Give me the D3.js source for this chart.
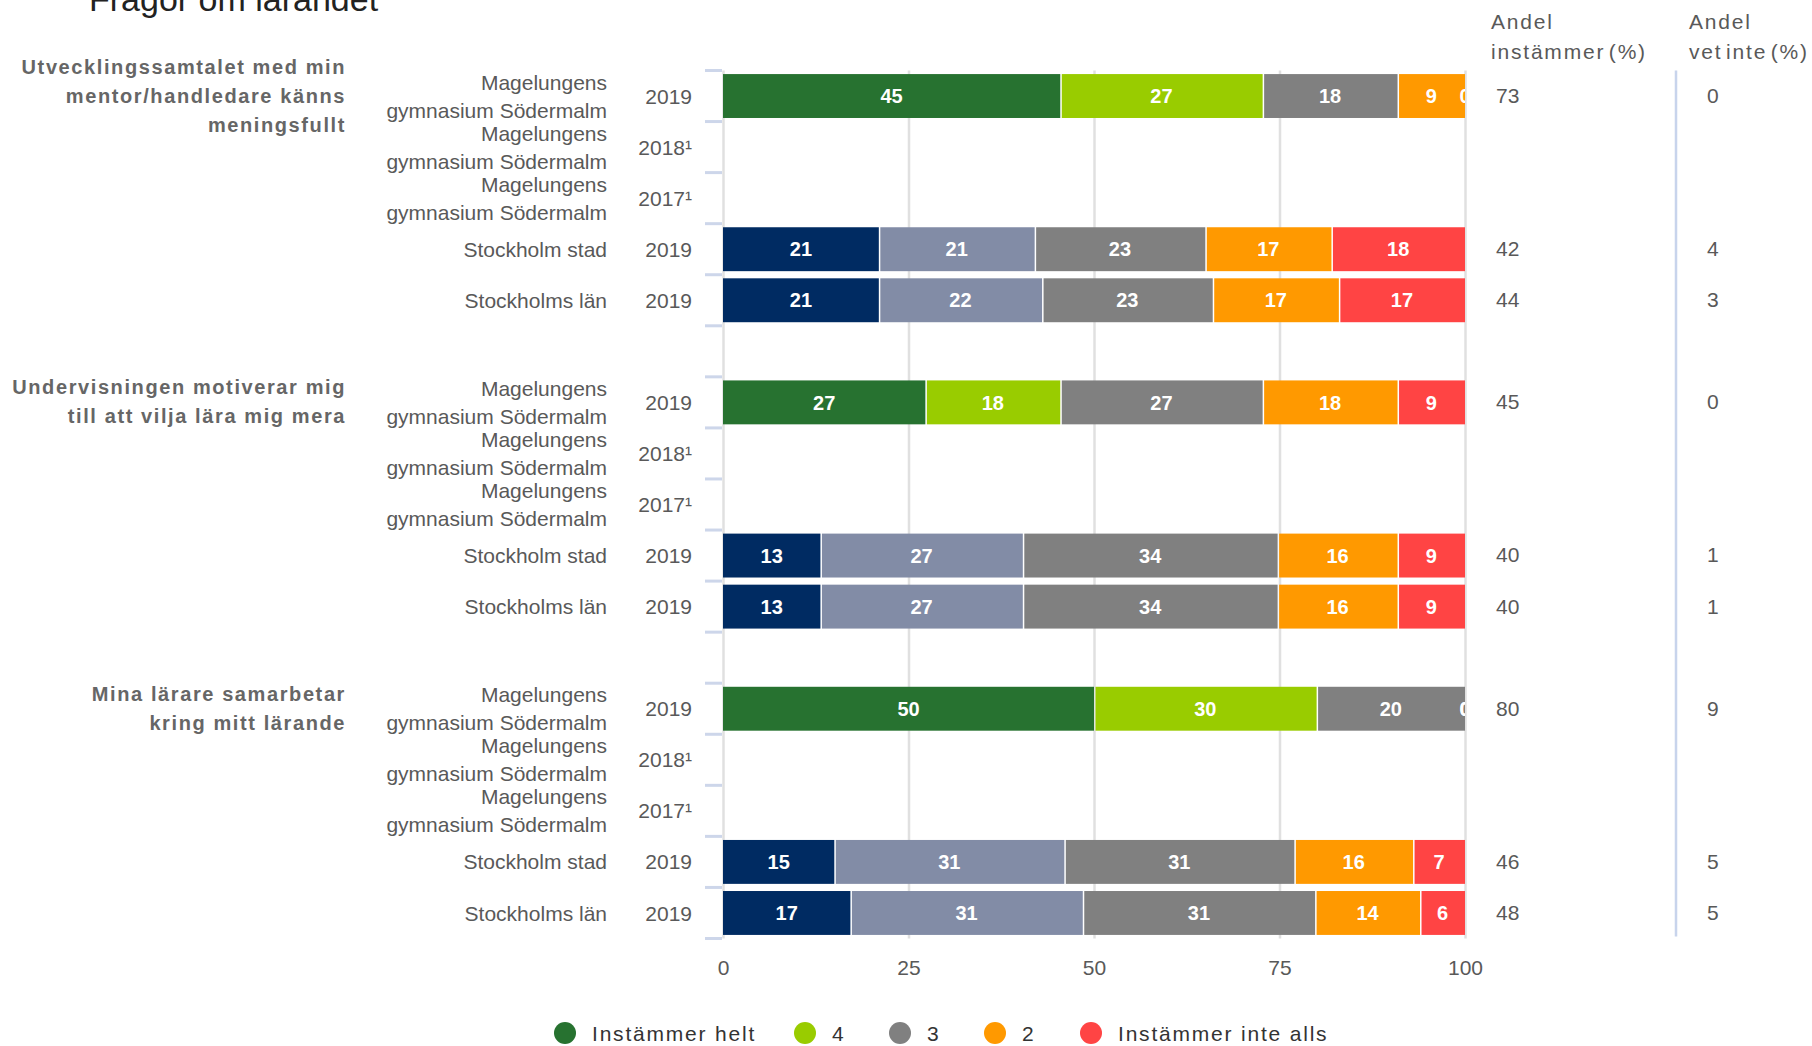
<!DOCTYPE html>
<html lang="sv">
<head>
    <meta charset="UTF-8">
    <title>Frågor om lärandet</title>
    <script src="https://d3js.org/d3.v7.min.js"></script>
    <style>
        body { margin: 0; background: #fff; font-family: "Liberation Sans", Arial, sans-serif; }
        svg text { font-family: "Liberation Sans", Arial, sans-serif; }
        .lbl { fill: #595959; font-size: 21px; }
        .question { fill: #666; font-size: 20px; font-weight: bold; letter-spacing: 1.6px; }
        .head { fill: #595959; font-size: 21px; letter-spacing: 1.8px; word-spacing: -4px; }
        .seg-label { fill: #fff; font-size: 20px; font-weight: bold; }
        .legend text { fill: #333; font-size: 21px; letter-spacing: 1.8px; }
    </style>
</head>
<body>

<div id="chart"></div>

<script>
var questions = [
    ["Utvecklingssamtalet med min", "mentor/handledare känns", "meningsfullt"],
    ["Undervisningen motiverar mig", "till att vilja lära mig mera"],
    ["Mina lärare samarbetar", "kring mitt lärande"]
];
var units = [
    ["Magelungens", "gymnasium Södermalm"],
    ["Magelungens", "gymnasium Södermalm"],
    ["Magelungens", "gymnasium Södermalm"],
    ["Stockholm stad"],
    ["Stockholms län"]
];
var years = ["2019", "2018\u00b9", "2017\u00b9", "2019", "2019"];
var levels = ["Instämmer helt", "4", "3", "2", "Instämmer inte alls"];

// values per row: Instämmer helt, 4, 3, 2, Instämmer inte alls
var q1Values = [[45, 27, 18, 9, 0], null, null, [21, 21, 23, 17, 18], [21, 22, 23, 17, 17]];
var q2Values = [[27, 18, 27, 18, 9], null, null, [13, 27, 34, 16, 9], [13, 27, 34, 16, 9]];
var q3Values = [[50, 30, 20, 0, 0], null, null, [15, 31, 31, 16, 7], [17, 31, 31, 14, 6]];

var q1Agree = [73, null, null, 42, 44];
var q2Agree = [45, null, null, 40, 40];
var q3Agree = [80, null, null, 46, 48];
var q1DontKnow = [0, null, null, 4, 3];
var q2DontKnow = [0, null, null, 1, 1];
var q3DontKnow = [9, null, null, 5, 5];

var xTicks = [0, 25, 50, 75, 100];

var schoolColors = ["#277230", "#99cc00", "#808080", "#ff9900", "#ff4444"];
var regionColors = ["#002b62", "#828ca6", "#808080", "#ff9900", "#ff4444"];

var W = 1812, H = 1046;
var svg = d3.select("#chart").append("svg")
    .attr("width", W)
    .attr("height", H);

// build rows (with a spacer row between the question groups)
var allValues = [q1Values, q2Values, q3Values];
var allAgree = [q1Agree, q2Agree, q3Agree];
var allDontKnow = [q1DontKnow, q2DontKnow, q3DontKnow];
var rows = [];
allValues.forEach(function(group, g) {
    group.forEach(function(v, i) {
        rows.push({ id: g + "-" + i, group: g, idx: i, unit: units[i], year: years[i],
            values: v, agree: allAgree[g][i], dontKnow: allDontKnow[g][i] });
    });
    if (g < allValues.length - 1) rows.push({ id: "sp" + g, spacer: true });
});

var plotL = 723, plotR = 1465, plotT = 70.5, plotB = 938.5;

var x = d3.scaleLinear().domain([0, 100]).range([plotL, plotR]);
var y = d3.scaleBand()
    .domain(rows.map(function(d) { return d.id; }))
    .range([plotT, plotB])
    .paddingInner(0.14)
    .paddingOuter(0.07);
var step = y.step();

// title (cut off at top, as in the original)
svg.append("text")
    .attr("x", 89).attr("y", 11)
    .style("font-size", "34px").style("fill", "#222")
    .text("Frågor om lärandet");

// grid + x axis
var xAxis = svg.append("g")
    .attr("transform", "translate(0," + plotB + ")")
    .call(d3.axisBottom(x).tickValues(xTicks).tickSizeInner(-(plotB - plotT)).tickSizeOuter(0).tickPadding(22));
xAxis.select(".domain").remove();
xAxis.selectAll("line").attr("stroke", "#e0e0e0").attr("stroke-width", 2.5);
xAxis.selectAll("text").attr("class", "lbl").style("font-size", "21px")
    .style("font-family", "'Liberation Sans', Arial, sans-serif").attr("fill", "#595959");

// left tick marks on row boundaries
var bounds = rows.map(function(d) { return y(d.id) - step * 0.07; });
bounds.push(y(rows[rows.length - 1].id) + y.bandwidth() + step * 0.07);
svg.selectAll(".rtick").data(bounds).enter().append("line")
    .attr("x1", 705).attr("x2", plotL - 1)
    .attr("y1", function(d) { return d; }).attr("y2", function(d) { return d; })
    .attr("stroke", "#cdd6ea").attr("stroke-width", 3);

// separator line for right columns
svg.append("line")
    .attr("x1", 1676).attr("x2", 1676).attr("y1", plotT).attr("y2", plotB - 2)
    .attr("stroke", "#c8d4ec").attr("stroke-width", 2.5);

// bars
svg.append("clipPath").attr("id", "plotclip").append("rect")
    .attr("x", plotL).attr("y", 0).attr("width", plotR - plotL).attr("height", H);

var dataRows = rows.filter(function(d) { return !d.spacer && d.values; });
var segs = [];
dataRows.forEach(function(r) {
    var total = d3.sum(r.values), acc = 0;
    r.values.forEach(function(v, k) {
        segs.push({ row: r, k: k, v: v, x0: acc / total * 100, x1: (acc + v) / total * 100 });
        acc += v;
    });
});

var barG = svg.append("g").attr("clip-path", "url(#plotclip)");
barG.selectAll("rect.seg").data(segs.filter(function(d) { return d.v > 0; })).enter().append("rect")
    .attr("class", "seg")
    .attr("x", function(d) { return x(d.x0) + (d.x0 > 0 ? 1.5 : 0); })
    .attr("width", function(d) { return Math.max(0, x(d.x1) - x(d.x0) - (d.x0 > 0 ? 1.5 : 0)); })
    .attr("y", function(d) { return y(d.row.id); })
    .attr("height", y.bandwidth())
    .attr("fill", function(d) { return (d.row.idx < 3 ? schoolColors : regionColors)[d.k]; });

barG.selectAll("text.seg-label").data(segs).enter().append("text")
    .attr("class", "seg-label")
    .attr("x", function(d) { return x((d.x0 + d.x1) / 2); })
    .attr("y", function(d) { return y(d.row.id) + y.bandwidth() / 2; })
    .attr("dy", "0.36em")
    .attr("text-anchor", "middle")
    .text(function(d) { return d.v; });

// category + year labels
var labelRows = rows.filter(function(d) { return !d.spacer; });
labelRows.forEach(function(r) {
    var cy = y(r.id) + y.bandwidth() / 2;
    var t = svg.append("text").attr("class", "lbl").attr("text-anchor", "end");
    if (r.unit.length === 2) {
        t.append("tspan").attr("x", 607).attr("y", cy - 14).attr("dy", "0.36em").text(r.unit[0]);
        t.append("tspan").attr("x", 607).attr("y", cy + 14).attr("dy", "0.36em").text(r.unit[1]);
    } else {
        t.attr("x", 607).attr("y", cy).attr("dy", "0.36em").text(r.unit[0]);
    }
    svg.append("text").attr("class", "lbl")
        .attr("text-anchor", "end")
        .attr("x", 692).attr("y", cy).attr("dy", "0.36em")
        .text(r.year);
    if (r.agree !== null) {
        svg.append("text").attr("class", "lbl").attr("x", 1496).attr("y", cy).attr("dy", "0.33em").text(r.agree);
        svg.append("text").attr("class", "lbl").attr("x", 1707).attr("y", cy).attr("dy", "0.33em").text(r.dontKnow);
    }
});

// question labels, centred on each group's first row
questions.forEach(function(lines, g) {
    var cy = y(g + "-0") + y.bandwidth() / 2;
    var lh = 29;
    var t = svg.append("text").attr("class", "question").attr("text-anchor", "end");
    lines.forEach(function(line, i) {
        t.append("tspan").attr("x", 346)
            .attr("y", cy + (i - (lines.length - 1) / 2) * lh)
            .attr("dy", "0.33em").text(line);
    });
});

// column headers
[["Andel", "instämmer (%)", 1491], ["Andel", "vet inte (%)", 1689]].forEach(function(h) {
    var t = svg.append("text").attr("class", "head");
    t.append("tspan").attr("x", h[2]).attr("y", 29).text(h[0]);
    t.append("tspan").attr("x", h[2]).attr("y", 59).text(h[1]);
});

// legend
var legendX = [565, 805, 900, 995, 1091];
var legend = svg.selectAll(".legend").data(levels).enter().append("g")
    .attr("class", "legend")
    .attr("transform", function(d, i) { return "translate(" + legendX[i] + ",1033)"; });
legend.append("circle").attr("r", 11).attr("fill", function(d, i) { return schoolColors[i]; });
legend.append("text").attr("x", 27).attr("dy", "0.36em").text(function(d) { return d; });
</script>

</body>
</html>
